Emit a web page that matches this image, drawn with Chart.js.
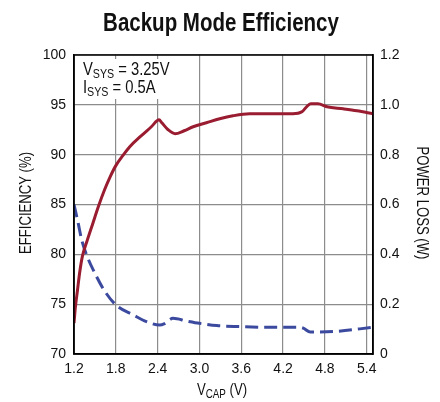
<!DOCTYPE html>
<html>
<head>
<meta charset="utf-8">
<script src="https://cdn.jsdelivr.net/npm/chart.js@4/dist/chart.umd.min.js"></script>
<style>
  html, body { margin: 0; padding: 0; background: #fff; }
  #wrap { width: 440px; height: 402px; position: relative; }
</style>
</head>
<body>
<div id="wrap"><canvas id="chart"></canvas></div>
<script>
// --- dados ---
const effVcap = [1.2, 1.22, 1.25, 1.28, 1.32, 1.39, 1.47, 1.55, 1.64, 1.72, 1.8, 1.9, 2.0, 2.15, 2.31, 2.42, 2.46, 2.55, 2.65, 2.78, 2.91, 3.1, 3.29, 3.48, 3.72, 4.34, 4.47, 4.55, 4.6, 4.7, 4.83, 5.06, 5.26, 5.49];
const effValues = [73.1, 74.7, 76.4, 78.1, 79.8, 81.4, 83.1, 84.8, 86.5, 87.8, 88.9, 89.9, 90.8, 91.8, 92.8, 93.5, 93.2, 92.5, 92.1, 92.4, 92.8, 93.2, 93.6, 93.9, 94.1, 94.1, 94.3, 94.9, 95.1, 95.1, 94.8, 94.6, 94.4, 94.1];

const lossVcap = [1.2, 1.26, 1.31, 1.39, 1.5, 1.63, 1.8, 2.05, 2.24, 2.43, 2.5, 2.62, 2.82, 3.0, 3.25, 3.58, 3.97, 4.44, 4.49, 4.59, 4.92, 5.49];
const lossValues = [0.6, 0.525, 0.458, 0.391, 0.324, 0.257, 0.197, 0.157, 0.13, 0.116, 0.122, 0.143, 0.132, 0.123, 0.114, 0.11, 0.107, 0.107, 0.104, 0.088, 0.09, 0.107];

const xTicks = [1.2, 1.8, 2.4, 3.0, 3.6, 4.2, 4.8, 5.4];
const effTicks = [70, 75, 80, 85, 90, 95, 100];
const lossTicks = [0, 0.2, 0.4, 0.6, 0.8, 1.0, 1.2];

const FONT = "'Liberation Sans', Arial, sans-serif";
const RED = "#9a1c30";
const BLUE = "#3b4a9e";
const GRID = "#8c8c8c";
const SQ = 0.82; // aperta o texto na horizontal (fonte condensada)

// texto com subscrito: partes [texto, isSub]
function drawRich(ctx, parts, x, y, size, subSize) {
  ctx.save();
  ctx.translate(x, y);
  ctx.scale(SQ, 1);
  let cx = 0;
  parts.forEach(([t, sub]) => {
    ctx.font = (sub ? subSize : size) + "px " + FONT;
    ctx.fillText(t, cx, sub ? 3 : 0);
    cx += ctx.measureText(t).width;
  });
  ctx.restore();
}
function richWidth(ctx, parts, size, subSize) {
  let w = 0;
  parts.forEach(([t, sub]) => {
    ctx.font = (sub ? subSize : size) + "px " + FONT;
    w += ctx.measureText(t).width;
  });
  return w * SQ;
}
function drawSquished(ctx, text, x, y, rot) {
  ctx.save();
  ctx.translate(x, y);
  ctx.rotate(rot);
  ctx.scale(SQ, 1);
  ctx.fillText(text, 0, 0);
  ctx.restore();
}

const decor = {
  id: "decor",
  beforeDatasetsDraw(chart) {
    const ctx = chart.ctx;
    ctx.save();
    ctx.fillStyle = "#fff";
    ctx.fillRect(82, 59, 94, 40);
    ctx.restore();
  },
  afterDatasetsDraw(chart) {
    const { ctx, chartArea: a } = chart;
    ctx.save();
    // moldura
    ctx.strokeStyle = "#000";
    ctx.lineWidth = 1.5;
    ctx.strokeRect(a.left, a.top, a.right - a.left, a.bottom - a.top);

    ctx.fillStyle = "#111";
    ctx.textBaseline = "alphabetic";
    // título
    ctx.font = "bold 25px " + FONT;
    ctx.textAlign = "center";
    drawSquished(ctx, "Backup Mode Efficiency", 221, 31, 0);

    // anotações
    ctx.textAlign = "left";
    drawRich(ctx, [["V", false], ["SYS", true], [" = 3.25V", false]], 83, 75, 18, 13);
    drawRich(ctx, [["I", false], ["SYS", true], [" = 0.5A", false]], 83, 93, 18, 13);

    // título eixo x
    const xParts = [["V", false], ["CAP", true], [" (V)", false]];
    const w = richWidth(ctx, xParts, 16, 12);
    drawRich(ctx, xParts, 222 - w / 2, 395, 16, 12);

    // títulos eixos y
    ctx.font = "16px " + FONT;
    ctx.textAlign = "center";
    ctx.textBaseline = "middle";
    drawSquished(ctx, "EFFICIENCY (%)", 27, 203, -Math.PI / 2);
    drawSquished(ctx, "POWER LOSS (W)", 421, 203, Math.PI / 2);
    ctx.restore();
  },
};

const ctx = document.getElementById("chart").getContext("2d");
new Chart(ctx, {
  type: "line",
  data: {
    datasets: [
      {
        label: "Efficiency",
        data: effVcap.map((v, i) => ({ x: v, y: effValues[i] })),
        yAxisID: "y",
        borderColor: RED,
        borderWidth: 3,
        pointRadius: 0,
        cubicInterpolationMode: "monotone",
      },
      {
        label: "Power Loss",
        data: lossVcap.map((v, i) => ({ x: v, y: lossValues[i] })),
        yAxisID: "y1",
        borderColor: BLUE,
        borderWidth: 3,
        borderDash: [13, 6],
        pointRadius: 0,
        cubicInterpolationMode: "monotone",
      },
    ],
  },
  options: {
    responsive: true,
    maintainAspectRatio: false,
    animation: false,
    layout: { padding: { top: 55, left: 0, right: 0, bottom: 0 } },
    plugins: { legend: { display: false }, tooltip: { enabled: false } },
    scales: {
      x: {
        type: "linear",
        min: 1.2,
        max: 5.49,
        afterBuildTicks: (s) => { s.ticks = xTicks.map((v) => ({ value: v })); },
        afterFit: (s) => { s.height = 48; },
        grid: { color: GRID, lineWidth: 1.2, drawTicks: false },
        border: { color: "#000", width: 1.5 },
        ticks: {
          color: "#111",
          font: { family: FONT, size: 14 },
          padding: 7,
          maxRotation: 0,
          callback: (v) => v.toFixed(1),
        },
      },
      y: {
        position: "left",
        min: 70,
        max: 100,
        afterBuildTicks: (s) => { s.ticks = effTicks.map((v) => ({ value: v })); },
        afterFit: (s) => { s.width = 74; },
        grid: { color: GRID, lineWidth: 1.2, drawTicks: false },
        border: { color: "#000", width: 1.5 },
        ticks: { color: "#111", font: { family: FONT, size: 14 }, padding: 8 },
      },
      y1: {
        position: "right",
        min: 0,
        max: 1.2,
        afterBuildTicks: (s) => { s.ticks = lossTicks.map((v) => ({ value: v })); },
        afterFit: (s) => { s.width = 67; },
        grid: { drawOnChartArea: false, drawTicks: false },
        border: { color: "#000", width: 1.5 },
        ticks: {
          color: "#111",
          font: { family: FONT, size: 14 },
          padding: 7,
          callback: (v) => (v === 0 ? "0" : v.toFixed(1)),
        },
      },
    },
  },
  plugins: [decor],
});
</script>
</body>
</html>
